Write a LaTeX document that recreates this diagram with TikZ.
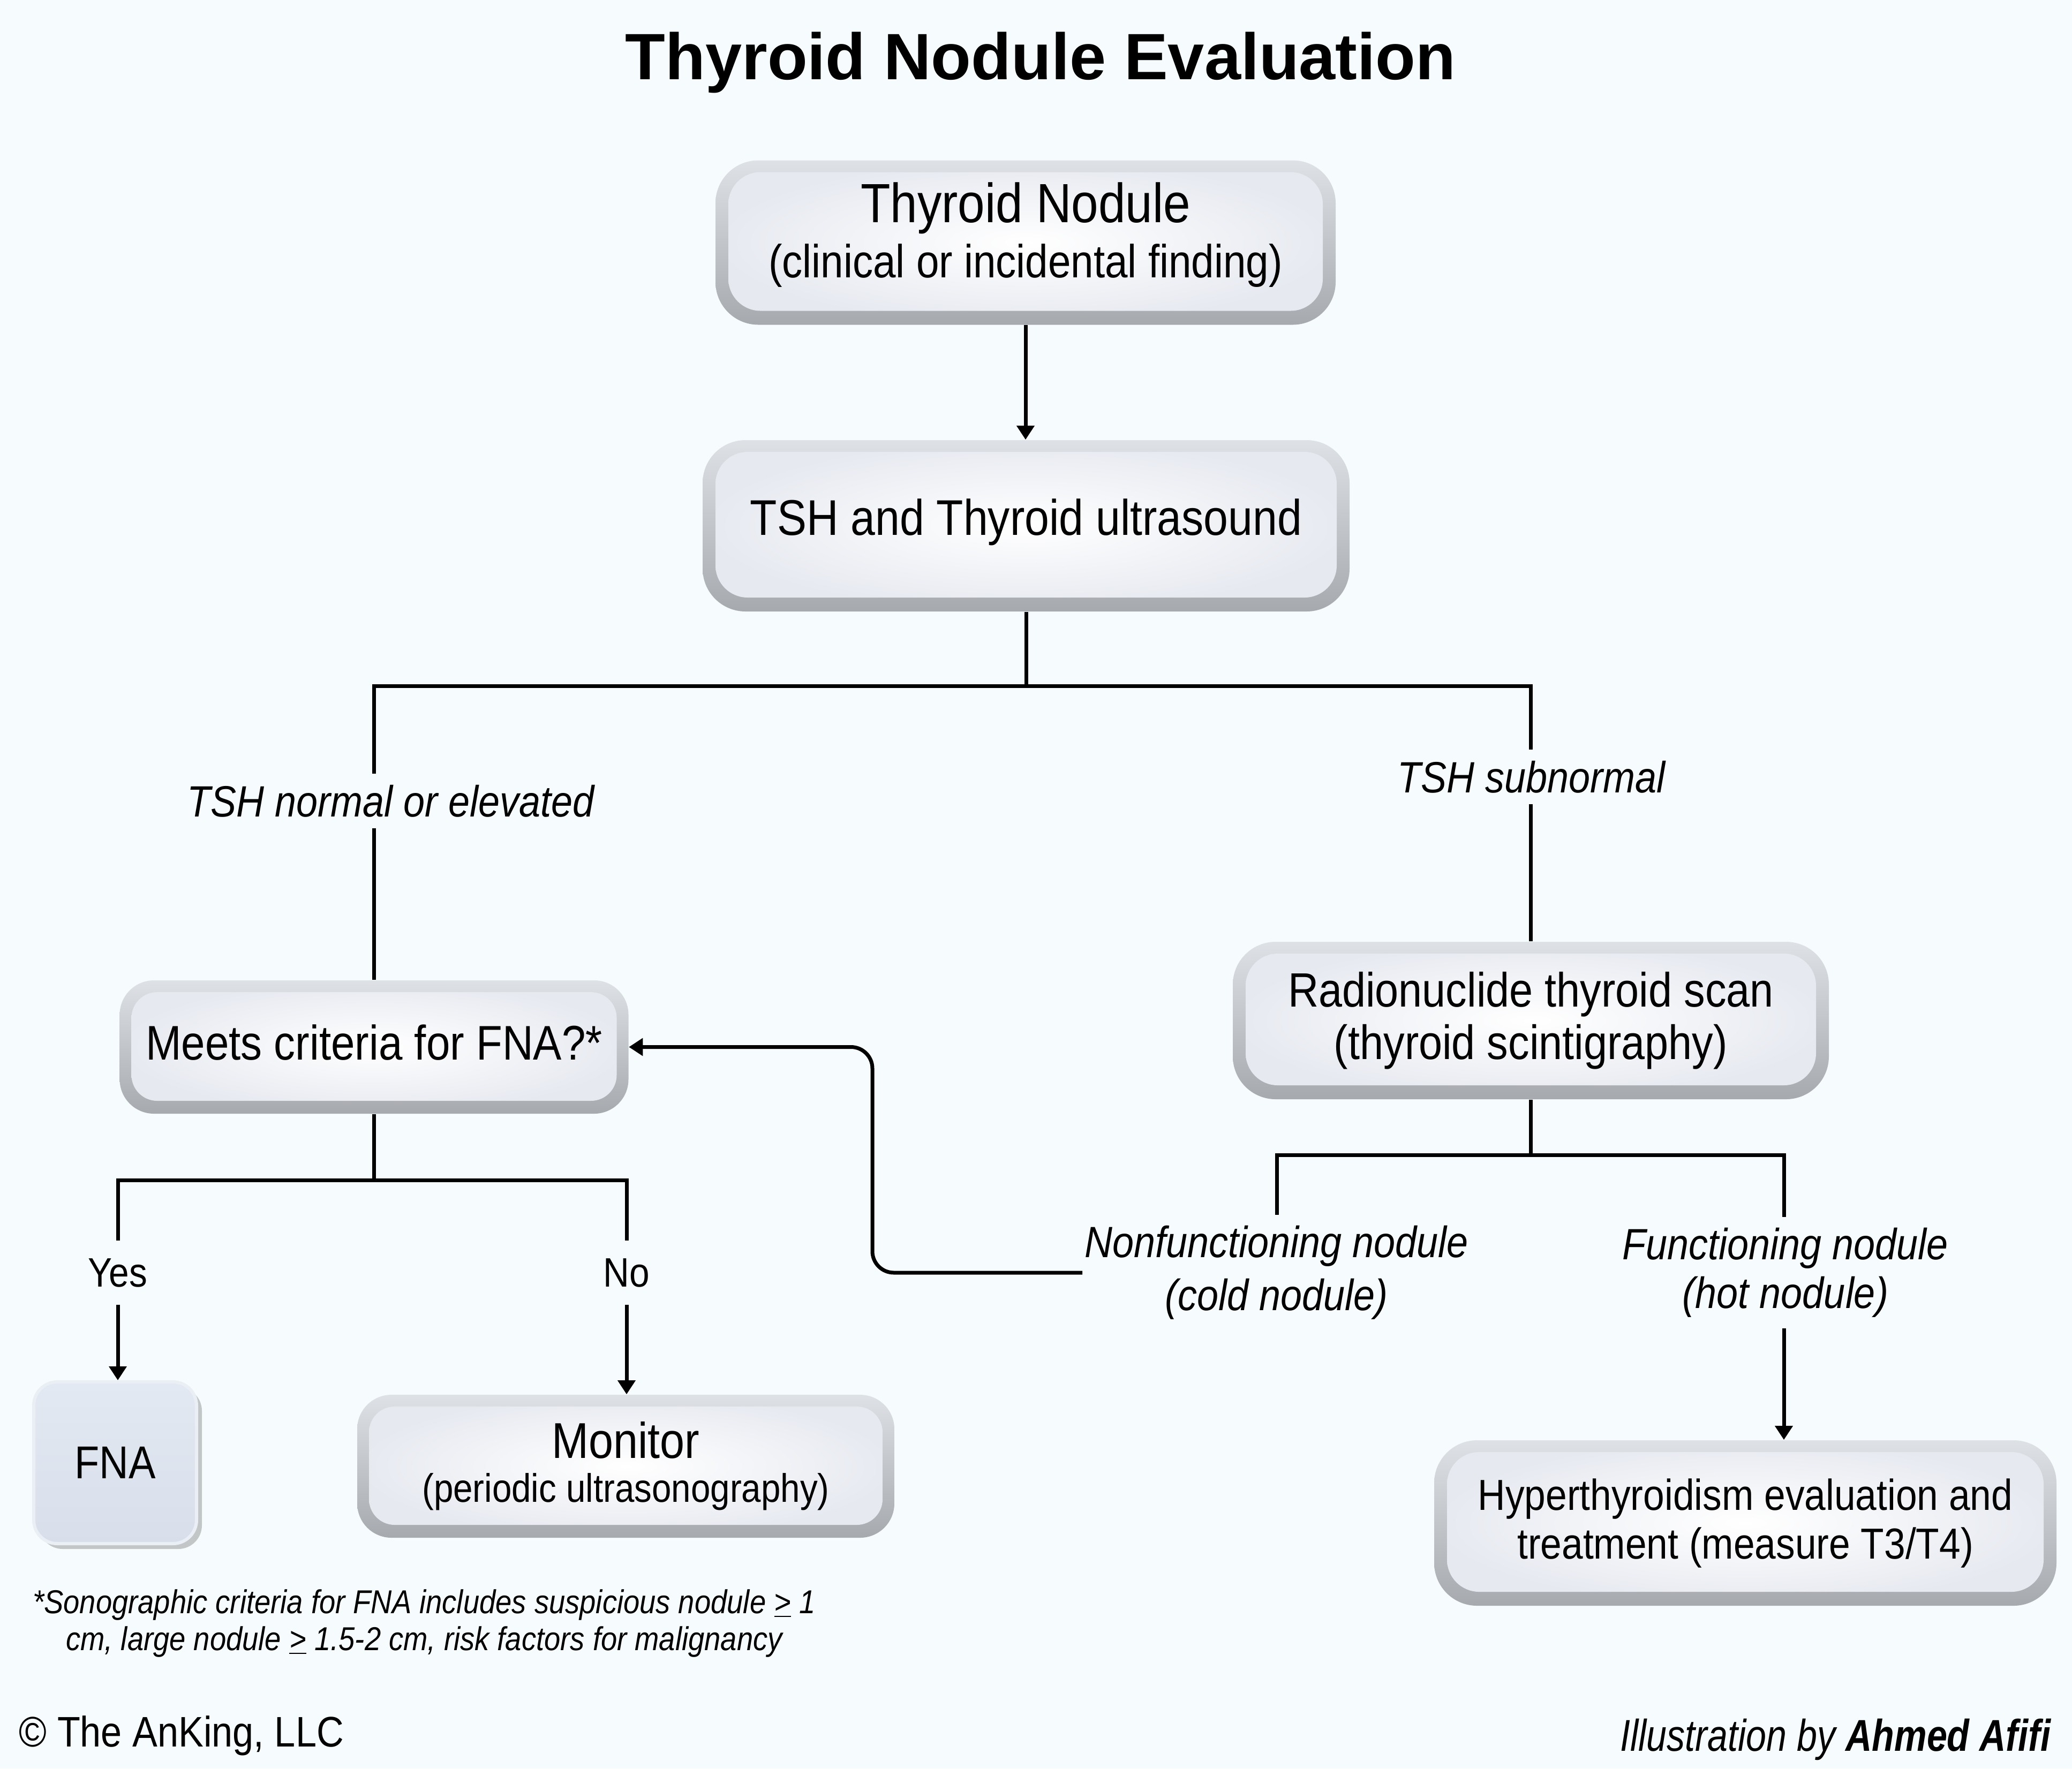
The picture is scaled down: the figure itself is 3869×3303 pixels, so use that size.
\documentclass[tikz,border=0pt]{standalone}
\usepackage{fontspec}
\setmainfont[FakeStretch=0.88]{Liberation Sans}
\newfontfamily\titlefont{Liberation Sans}
\newfontfamily\illfont[FakeStretch=0.82]{Liberation Sans}
\usetikzlibrary{arrows.meta,shadows}
\definecolor{bgc}{HTML}{F6FCFD}
\definecolor{rimtop}{HTML}{DEE1E5}
\definecolor{rimbot}{HTML}{A6A9AE}
\definecolor{bodyedge}{HTML}{E6E9F0}
\definecolor{fnatop}{HTML}{E3E9F2}
\definecolor{fnabot}{HTML}{D8DFEB}
\definecolor{fnaline}{HTML}{EAEEF5}
\tikzset{
  bxbase/.style={draw=none, top color=rimtop, bottom color=rimbot, align=center, inner sep=0pt, text=black},
  bx/.style={bxbase, rounded corners=20pt,
    path picture={\shade[rounded corners=15pt, inner color=white, outer color=bodyedge]
      ([xshift=6pt,yshift=6.5pt]path picture bounding box.south west) rectangle
      ([xshift=-6pt,yshift=-5.5pt]path picture bounding box.north east);}},
  bxs/.style={bxbase, rounded corners=16pt,
    path picture={\shade[rounded corners=12pt, inner color=white, outer color=bodyedge]
      ([xshift=5.5pt,yshift=6pt]path picture bounding box.south west) rectangle
      ([xshift=-5.5pt,yshift=-5.5pt]path picture bounding box.north east);}},
  fnabox/.style={rounded corners=11pt, top color=fnatop, bottom color=fnabot, draw=fnaline, line width=1.5pt,
    drop shadow={shadow xshift=2.5pt, shadow yshift=-2.5pt, opacity=0.3, fill=black!70}, inner sep=0pt},
  conn/.style={line width=1.75pt, black},
  arr/.style={conn, -{Triangle[length=6.5pt,width=8pt]}},
  lbl/.style={font=\itshape\fontsize{20.45}{24}\selectfont, inner xsep=1pt, inner ysep=5pt, align=center},
  yn/.style={font=\fontsize{19.2}{22}\selectfont, inner xsep=1pt, inner ysep=8pt, anchor=base},
}
\begin{document}
\begin{tikzpicture}[x=0.25pt, y=-0.25pt]
\fill[bgc] (0,0) rectangle (3869,3303);
\useasboundingbox (0,0) rectangle (3869,3303);

\node[anchor=base, inner sep=0pt, font=\titlefont\bfseries\fontsize{30.6}{36}\selectfont] (title) at (1943,148) {Thyroid Nodule Evaluation};

% boxes
\node[bx, minimum width=289.5pt, minimum height=76.75pt, font=\fontsize{21.7}{25.75}\selectfont] (n1) at (1915,453)
  {{\fontsize{25.8}{25.75}\selectfont Thyroid Nodule}\\(clinical or incidental finding)\rule[-11.5pt]{0pt}{0pt}};
\node[bx, minimum width=302pt, minimum height=80pt, font=\fontsize{23.4}{27}\selectfont] (n2) at (1916,982)
  {TSH and Thyroid ultrasound\rule[-8.3pt]{0pt}{0pt}};
\node[bxs, minimum width=237.5pt, minimum height=62.25pt, font=\fontsize{22.7}{26}\selectfont] (meets) at (698.5,1955.5)
  {Meets criteria for FNA?*\rule[-4.5pt]{0pt}{0pt}};
\node[bx, minimum width=278.25pt, minimum height=73.5pt, font=\fontsize{22.5}{24.5}\selectfont] (radio) at (2858.5,1906)
  {Radionuclide thyroid scan\\(thyroid scintigraphy)};
\node[fnabox, minimum width=76pt, minimum height=75.5pt, font=\fontsize{21.5}{25}\selectfont] (fna) at (215,2732) {FNA};
\node[bxs, minimum width=250.75pt, minimum height=66.75pt, font=\fontsize{18.6}{20.5}\selectfont] (mon) at (1168.5,2738.5)
  {{\fontsize{23.5}{20.5}\selectfont Monitor}\\(periodic ultrasonography)};
\node[bx, minimum width=290.5pt, minimum height=77.25pt, font=\fontsize{20.25}{22.75}\selectfont] (hyp) at (3259,2844.5)
  {Hyperthyroidism evaluation and\\treatment (measure T3/T4)};

% labels
\node[lbl, anchor=base] (tshL) at (730,1525) {TSH normal or elevated};
\node[lbl, anchor=base] (tshR) at (2860,1480) {TSH subnormal};
\node[lbl, font=\itshape\fontsize{20.45}{24.75}\selectfont] (cold) at (2384,2377) {Nonfunctioning nodule\\(cold nodule)};
\node[lbl, font=\itshape\fontsize{20.45}{22.75}\selectfont] (hot) at (3334,2377) {Functioning nodule\\(hot nodule)};
\node[yn] (yes) at (220,2403) {Yes};
\node[yn] (no) at (1170,2403) {No};

% coordinates
\coordinate (jL) at (698.5,1281);
\coordinate (jR) at (2858.5,1281);
\coordinate (kL) at (2384,2157);
\coordinate (kR) at (3331,2157);
\coordinate (mY) at (220,2204);
\coordinate (mN) at (1170,2204);
\coordinate (lx) at (1629,2100);

% connectors
\draw[arr] (n1.south) -- (n1.south |- n2.north);
\draw[conn] (n2.south) -- (n2.south |- jL);
\draw[conn] (tshL.north -| jL) -- (jL) -- (jR) -- (tshR.north -| jR);
\draw[conn] (tshL.south -| jL) -- (meets.north);
\draw[conn] (tshR.south -| jR) -- (radio.north);
\draw[conn] (radio.south) -- (radio.south |- kL);
\draw[conn] (cold.north -| kL) -- (kL) -- (kR) -- (kR |- hot.north);
\draw[arr] (hot.south -| kR) -- (hyp.north -| kR);
\draw[arr, rounded corners=10pt] (cold.west) -- (cold.west -| lx) -- (lx |- meets.east) -- (meets.east);
\draw[conn] (meets.south) -- (meets.south |- mY);
\draw[conn] (yes.north -| mY) -- (mY) -- (mN) -- (mN |- no.north);
\draw[arr] (yes.south -| mY) -- (fna.north -| mY);
\draw[arr] (no.south -| mN) -- (mon.north -| mN);

% footnote and credits
\node[font=\itshape\fontsize{15.45}{17.25}\selectfont, align=center, inner sep=0pt] (foot) at (792,3032)
  {*Sonographic criteria for FNA includes suspicious nodule \underline{>} 1\\cm, large nodule \underline{>} 1.5-2 cm, risk factors for malignancy};
\node[anchor=base west, inner sep=0pt, font=\fontsize{19.95}{22}\selectfont] (copy) at (35,3262) {© The AnKing, LLC};
\node[anchor=base east, inner sep=0pt, font=\illfont\itshape\fontsize{20.8}{24}\selectfont] (ill) at (3830,3270)
  {Illustration by \textbf{Ahmed Afifi}};
\end{tikzpicture}
\end{document}
